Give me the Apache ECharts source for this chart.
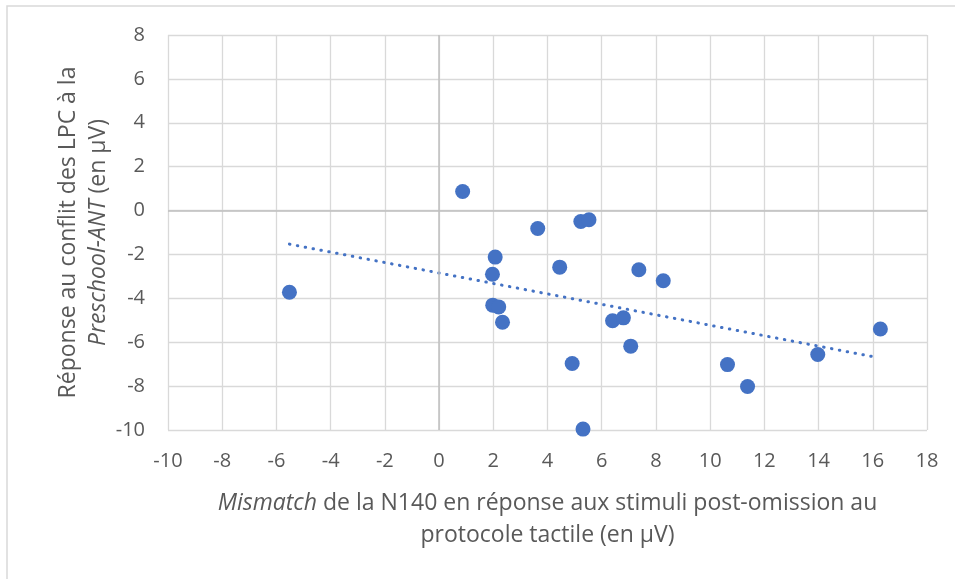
<!DOCTYPE html>
<html>
<head>
<meta charset="utf-8">
<script src="https://cdn.jsdelivr.net/npm/echarts@6/dist/echarts.min.js"></script>
<style>
  html, body { margin: 0; padding: 0; background: #ffffff; }
  #chart { width: 955px; height: 579px; }
</style>
</head>
<body>
<div id="chart"></div>
<script>
// N140 mismatch (x) vs LPC conflict response (y), in µV
const mismatchN140 = [-5.52, 0.87, 2.07, 1.97, 1.98, 2.20, 2.34, 3.64, 4.45, 4.91, 5.23, 5.53, 5.31, 6.40, 6.80, 7.07, 7.37, 8.27, 10.64, 11.38, 13.97, 16.28];
const conflitLPC  = [-3.72, 0.87, -2.12, -2.90, -4.31, -4.39, -5.09, -0.82, -2.58, -6.97, -0.50, -0.42, -9.96, -5.02, -4.89, -6.18, -2.70, -3.20, -7.02, -8.02, -6.56, -5.40];

// Linear trend line end points
const trendX = [-5.52, 16.06];
const trendY = [-1.53, -6.67];

// Axis ranges and steps
const xTicks = { min: -10, max: 18, step: 2 };
const yTicks = { min: -10, max: 8, step: 2 };

const FONT = '"Open Sans", "Noto Sans", sans-serif';
const TEXT = '#595959';
const BLUE = '#4472C4';

const points = mismatchN140.map((x, i) => [x, conflitLPC[i]]);
const trend = trendX.map((x, i) => [x, trendY[i]]);

const chart = echarts.init(document.getElementById('chart'), null, { renderer: 'canvas' });

chart.setOption({
  backgroundColor: '#ffffff',
  animation: false,
  textStyle: { fontFamily: FONT },
  graphic: [{
    type: 'rect',
    shape: { x: 7, y: 6, width: 1200, height: 1200 },
    style: { fill: 'none', stroke: '#d9d9d9', lineWidth: 1.5 },
    silent: true
  }],
  grid: { left: 168, top: 35, right: 28, bottom: 149 },
  xAxis: {
    type: 'value',
    min: xTicks.min, max: xTicks.max, interval: xTicks.step,
    axisLine: { show: false },
    axisTick: { show: false },
    axisLabel: { color: TEXT, fontSize: 20, fontFamily: FONT, margin: 21 },
    splitLine: { show: true, lineStyle: { color: '#d9d9d9', width: 1.3 } },
    name: '{i|Mismatch} de la N140 en réponse aux stimuli post-omission au\nprotocole tactile (en µV)',
    nameLocation: 'middle',
    nameGap: 57,
    nameMoveOverlap: false,
    nameTextStyle: {
      color: TEXT, fontSize: 23, fontFamily: FONT, lineHeight: 32, align: 'center',
      rich: { i: { fontStyle: 'italic', color: TEXT, fontSize: 23, fontFamily: FONT, lineHeight: 32 } }
    }
  },
  yAxis: {
    type: 'value',
    min: yTicks.min, max: yTicks.max, interval: yTicks.step,
    axisLine: { show: false },
    axisTick: { show: false },
    axisLabel: { color: TEXT, fontSize: 20, fontFamily: FONT, margin: 23 },
    splitLine: { show: true, lineStyle: { color: '#d9d9d9', width: 1.3 } },
    name: 'Réponse au conflit des LPC à la\n{i|Preschool-ANT} (en µV)',
    nameLocation: 'middle',
    nameRotate: 90,
    nameGap: 55,
    nameMoveOverlap: false,
    nameTextStyle: {
      color: TEXT, fontSize: 23, fontFamily: FONT, lineHeight: 30, align: 'center',
      rich: { i: { fontStyle: 'italic', color: TEXT, fontSize: 23, fontFamily: FONT, lineHeight: 30 } }
    }
  },
  series: [
    {
      type: 'line',
      data: trend,
      showSymbol: false,
      silent: true,
      z: 2,
      lineStyle: { color: BLUE, width: 3, type: [0.5, 7.5], cap: 'round' },
      markLine: {
        silent: true,
        symbol: 'none',
        label: { show: false },
        lineStyle: { color: '#bfbfbf', width: 1.5, type: 'solid' },
        data: [{ xAxis: 0 }, { yAxis: 0 }]
      }
    },
    {
      type: 'scatter',
      data: points,
      symbol: 'circle',
      symbolSize: 15,
      z: 3,
      itemStyle: { color: BLUE, opacity: 1 }
    }
  ]
});
</script>
</body>
</html>
